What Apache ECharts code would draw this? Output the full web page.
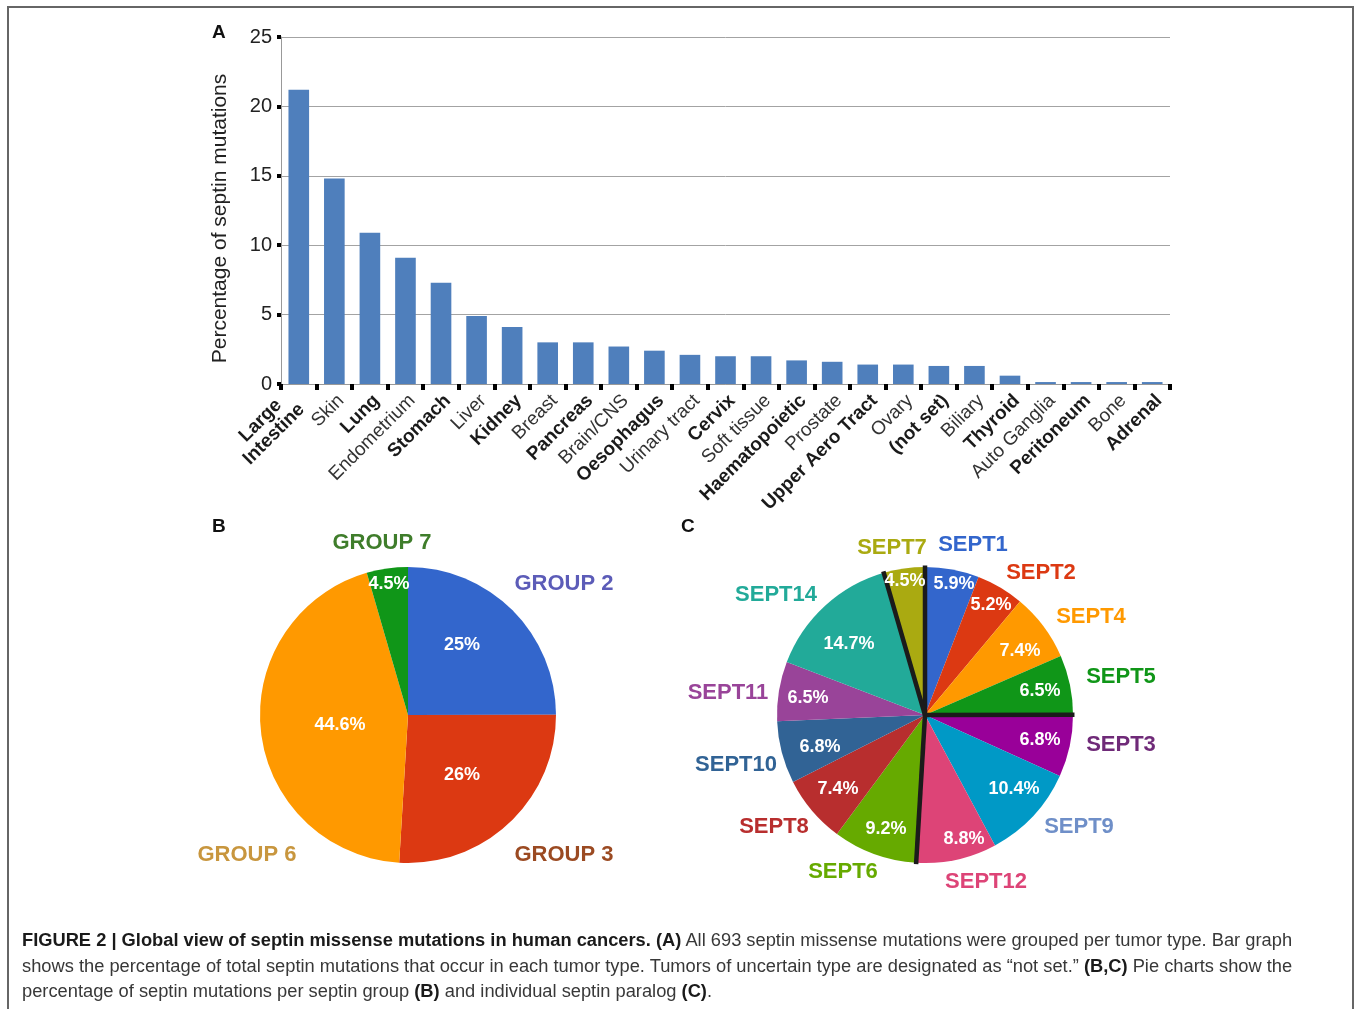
<!DOCTYPE html>
<html>
<head>
<meta charset="utf-8">
<script src="https://cdn.jsdelivr.net/npm/echarts@6/dist/echarts.min.js"></script>
<style>
  html, body { margin: 0; padding: 0; background: #fff; }
  #wrap { position: relative; width: 1357px; height: 1009px; overflow: hidden; }
  #frame { position: absolute; left: 7px; top: 6px; width: 1347px; height: 1100px;
           border: 2px solid #666; box-sizing: border-box; }
  #chart { position: absolute; left: 0; top: 0; width: 1357px; height: 1009px; }
  #caption { position: absolute; left: 22px; top: 927px; width: 1330px;
             font-family: 'Liberation Sans', Arial, sans-serif; font-size: 18.3px;
             line-height: 25.5px; color: #383838; white-space: nowrap; }
  #caption b { color: #1a1a1a; }
</style>
</head>
<body>
<div id="wrap">
  <div id="frame"></div>
  <div id="chart"></div>
  <div id="caption">
    <b>FIGURE 2 | Global view of septin missense mutations in human cancers. (A)</b> All 693 septin missense mutations were grouped per tumor type. Bar graph<br>
    shows the percentage of total septin mutations that occur in each tumor type. Tumors of uncertain type are designated as “not set.” <b>(B,C)</b> Pie charts show the<br>
    percentage of septin mutations per septin group <b>(B)</b> and individual septin paralog <b>(C)</b>.
  </div>
</div>
<script>
// panel A: % of septin mutations per tumor type
var tumorTypes = ['Large\nIntestine', 'Skin', 'Lung', 'Endometrium', 'Stomach', 'Liver', 'Kidney',
  'Breast', 'Pancreas', 'Brain/CNS', 'Oesophagus', 'Urinary tract', 'Cervix', 'Soft tissue',
  'Haematopoietic', 'Prostate', 'Upper Aero Tract', 'Ovary', '(not set)', 'Biliary', 'Thyroid',
  'Auto Ganglia', 'Peritoneum', 'Bone', 'Adrenal'];
var tumorPct = [21.2, 14.8, 10.9, 9.1, 7.3, 4.9, 4.1, 3.0, 3.0, 2.7, 2.4, 2.1, 2.0, 2.0,
  1.7, 1.6, 1.4, 1.4, 1.3, 1.3, 0.6, 0.14, 0.14, 0.14, 0.14];
var yTicks = [0, 5, 10, 15, 20, 25];

// panel B: per septin group
var groupNames = ['GROUP 2', 'GROUP 3', 'GROUP 6', 'GROUP 7'];
var groupPct = [25, 26, 44.6, 4.5];

// panel C: per septin paralog (clockwise from 12 o'clock)
var septNames = ['SEPT1', 'SEPT2', 'SEPT4', 'SEPT5', 'SEPT3', 'SEPT9', 'SEPT12',
  'SEPT6', 'SEPT8', 'SEPT10', 'SEPT11', 'SEPT14', 'SEPT7'];
var septPct = [5.9, 5.2, 7.4, 6.5, 6.8, 10.4, 8.8, 9.2, 7.4, 6.8, 6.5, 14.7, 4.5];
var septGroup = [2, 2, 2, 2, 3, 3, 3, 6, 6, 6, 6, 6, 7];

// ---- styling / layout ----
var FONT = "'Liberation Sans', Arial, sans-serif";
var boldTumors = ['Large\nIntestine', 'Lung', 'Stomach', 'Kidney', 'Pancreas', 'Oesophagus',
  'Cervix', 'Haematopoietic', 'Upper Aero Tract', '(not set)', 'Thyroid', 'Peritoneum', 'Adrenal'];

var groupColors = ['#3366cc', '#dc3912', '#ff9900', '#109618'];
var groupNameColors = ['#5c5cb8', '#9b4a22', '#c8963e', '#3f7d2b'];
var septColors = ['#3366cc', '#dc3912', '#ff9900', '#109618', '#990099', '#0099c6', '#dd4477',
  '#66aa00', '#b82e2e', '#316395', '#994499', '#22aa99', '#aaaa11'];
var septNameColors = ['#3366cc', '#dc3912', '#ff9900', '#109618', '#6f2a78', '#6f8fc8', '#dd4477',
  '#66aa00', '#b82e2e', '#316395', '#994499', '#22aa99', '#aaaa11'];

var pieB = { c: [408, 715], r: 148 };
var pieC = { c: [925, 715], r: 148 };
// label anchor points (text centres)
var groupPctPos = [[462, 645], [462, 775], [340, 725], [389, 584]];
var groupNamePos = [[564, 584], [564, 855], [247, 855], [382, 543]];
var septPctPos = [[954, 584], [991, 605], [1020, 651], [1040, 691], [1040, 740], [1014, 789],
  [964, 839], [886, 829], [838, 789], [820, 747], [808, 698], [849, 644], [905, 581]];
var septNamePos = [[973, 545], [1041, 573], [1091, 617], [1121, 677], [1121, 745], [1079, 827],
  [986, 882], [843, 872], [774, 827], [736, 765], [728, 693], [776, 595], [892, 548]];

function placeAt(list) {
  return function (params) {
    var p = list[params.dataIndex];
    return { x: p[0], y: p[1], align: 'center', verticalAlign: 'middle' };
  };
}

// group boundaries in panel C (black separators)
var septTotal = 0;
var separators = [];
for (var i = 0; i < septPct.length; i++) {
  if (i === 0 || septGroup[i] !== septGroup[i - 1]) separators.push([1.01, septTotal]);
  septTotal += septPct[i];
}

// a filled pie carrying the outer names + a transparent twin on top carrying the % labels
function pieSeries(center, r, names, values, colors, nameColors, namePos, pctPos) {
  return [
    {
      type: 'pie', center: center, radius: [0, r], startAngle: 90, clockwise: true,
      avoidLabelOverlap: false, silent: true, z: 2,
      data: names.map(function (n, i) {
        return { name: n, value: values[i], itemStyle: { color: colors[i] },
                 label: { color: nameColors[i] } };
      }),
      label: { show: true, position: 'outside', formatter: '{b}', fontSize: 22,
               fontWeight: 'bold', fontFamily: FONT },
      labelLine: { show: false },
      labelLayout: placeAt(namePos)
    },
    {
      type: 'pie', center: center, radius: [0, r], startAngle: 90, clockwise: true,
      avoidLabelOverlap: false, silent: true, z: 4,
      data: names.map(function (n, i) {
        return { name: n, value: values[i], itemStyle: { color: 'rgba(0,0,0,0)' } };
      }),
      label: { show: true, position: 'inside', formatter: '{c}%', color: '#fff',
               fontSize: 18, fontWeight: 'bold', fontFamily: FONT },
      labelLine: { show: false },
      labelLayout: placeAt(pctPos)
    }
  ];
}

// the two-line category label sits a bit differently from the single-line ones
var xCategories = tumorTypes.map(function (t) {
  if (t.indexOf('\n') < 0) return t;
  return { value: t, textStyle: { verticalAlign: 'middle', padding: [7, 9, 0, 0] } };
});

var chart = echarts.init(document.getElementById('chart'), null, { renderer: 'canvas' });

var option = {
  animation: false,
  textStyle: { fontFamily: FONT },
  graphic: [
    { type: 'text', left: 212, top: 23, style: { text: 'A', font: 'bold 19px ' + FONT, fill: '#111' } },
    { type: 'text', left: 212, top: 517, style: { text: 'B', font: 'bold 19px ' + FONT, fill: '#111' } },
    { type: 'text', left: 681, top: 517, style: { text: 'C', font: 'bold 19px ' + FONT, fill: '#111' } }
  ],
  grid: { left: 281, right: 187, top: 37, bottom: 625, containLabel: false },
  xAxis: {
    type: 'category',
    data: xCategories,
    axisLine: { show: true, lineStyle: { color: '#999', width: 1 } },
    axisTick: { show: true, length: 6, lineStyle: { color: '#000', width: 4 } },
    axisLabel: {
      interval: 0, rotate: 45, margin: 7, verticalAlign: 'top', fontSize: 19, color: '#333',
      formatter: function (v) {
        if (v === 'Large\nIntestine') return '{bc|Large}\n{b|Intestine}';
        return boldTumors.indexOf(v) >= 0 ? '{b|' + v + '}' : '{n|' + v + '}';
      },
      rich: {
        b: { fontSize: 19, fontWeight: 'bold', color: '#1a1a1a', fontFamily: FONT },
        bc: { fontSize: 19, fontWeight: 'bold', color: '#1a1a1a', fontFamily: FONT, width: 78, align: 'center' },
        n: { fontSize: 19, color: '#333', fontFamily: FONT }
      }
    }
  },
  yAxis: {
    type: 'value',
    min: yTicks[0], max: yTicks[yTicks.length - 1], interval: yTicks[1] - yTicks[0],
    name: 'Percentage of septin mutations',
    nameLocation: 'middle', nameGap: 50, nameRotate: 90,
    nameTextStyle: { fontSize: 21, color: '#222', fontFamily: FONT, padding: [0, 16, 0, 0] },
    axisLine: { show: true, lineStyle: { color: '#999', width: 1 } },
    axisTick: { show: true, length: 4, lineStyle: { color: '#000', width: 4 } },
    axisLabel: { fontSize: 20, color: '#222', margin: 9 },
    splitLine: { show: true, lineStyle: { color: '#a3a3a3', width: 1 } }
  },
  polar: { center: pieC.c, radius: pieC.r },
  angleAxis: { type: 'value', min: 0, max: septTotal, startAngle: 90, clockwise: true, show: false },
  radiusAxis: { type: 'value', min: 0, max: 1, show: false },
  series: [
    {
      type: 'bar',
      data: tumorPct,
      barCategoryGap: '42%',
      itemStyle: { color: '#4f7fbc' },
      silent: true
    },
    {
      type: 'custom', coordinateSystem: 'polar', silent: true, z: 3,
      data: separators,
      renderItem: function (params, api) {
        var a = api.value(1);
        var c = api.coord([0, a]);
        var e = api.coord([api.value(0), a]);
        return { type: 'line', shape: { x1: c[0], y1: c[1], x2: e[0], y2: e[1] },
                 style: { stroke: '#1b1b1b', lineWidth: 4.5 } };
      }
    }
  ].concat(
    pieSeries(pieB.c, pieB.r, groupNames, groupPct, groupColors, groupNameColors, groupNamePos, groupPctPos),
    pieSeries(pieC.c, pieC.r, septNames, septPct, septColors, septNameColors, septNamePos, septPctPos)
  )
};

chart.setOption(option);
</script>
</body>
</html>
